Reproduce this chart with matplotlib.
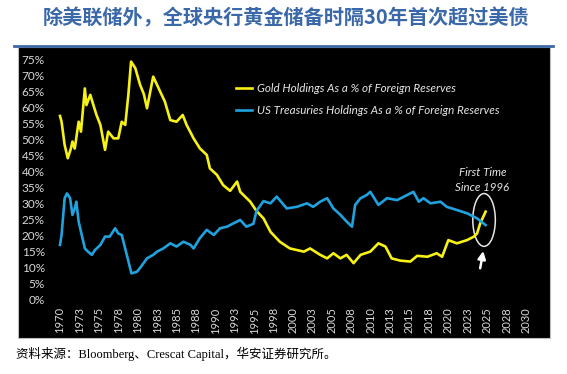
import math
import matplotlib
matplotlib.use("Agg")
import matplotlib.pyplot as plt
from matplotlib.patches import Rectangle, Ellipse
from matplotlib.lines import Line2D

# values (year, % of foreign reserves)
gold_years = [1970.0, 1970.2, 1970.6, 1971.0, 1971.4, 1971.6, 1971.9, 1972.4, 1972.7, 1973.2,
              1973.4, 1973.9, 1974.3, 1974.7, 1975.2, 1975.6, 1975.8, 1976.2, 1976.9, 1977.5,
              1977.95, 1978.4, 1978.8, 1979.15, 1979.7, 1980.3, 1980.8, 1981.2, 1982.0, 1982.9,
              1983.5, 1984.2, 1985.0, 1985.8, 1986.3, 1987.2, 1988.0, 1988.9, 1989.3, 1990.2,
              1991.0, 1991.9, 1992.8, 1993.2, 1994.5, 1995.3, 1996.2, 1997.1, 1998.3, 1999.6,
              2001.4, 2002.2, 2003.5, 2004.4, 2005.2, 2006.1, 2006.9, 2007.8, 2008.7, 2009.95,
              2011.0, 2011.9, 2012.7, 2013.8, 2015.1, 2016.0, 2017.3, 2018.5, 2019.2, 2020.0,
              2021.1, 2022.4, 2023.3, 2023.7, 2024.1, 2024.8]
gold_pct = [57.2, 55.4, 48.1, 44.0, 47.0, 49.2, 47.0, 55.4, 52.3, 65.8,
            60.6, 63.8, 60.6, 57.5, 54.4, 49.2, 46.6, 52.3, 50.2, 50.2,
            55.4, 54.4, 63.8, 74.2, 72.1, 67.0, 64.0, 59.6, 69.5, 64.8,
            61.7, 55.9, 55.4, 57.5, 54.4, 50.2, 47.1, 45.0, 40.8, 38.8,
            35.6, 33.8, 36.7, 33.5, 30.4, 27.5, 25.2, 21.0, 17.9, 15.8,
            14.8, 15.8, 13.8, 12.7, 14.3, 12.7, 13.8, 11.2, 13.8, 14.8,
            17.4, 16.4, 12.7, 12.0, 11.7, 13.5, 13.2, 14.3, 13.2, 18.4,
            17.4, 18.4, 19.5, 20.5, 23.6, 27.3]

ust_years = [1970.0, 1970.2, 1970.6, 1970.9, 1971.3, 1971.6, 1971.9, 1972.1, 1972.4, 1972.8,
             1973.2, 1973.6, 1974.1, 1974.5, 1975.2, 1975.8, 1976.4, 1977.1, 1977.5, 1977.95,
             1978.6, 1979.2, 1979.9, 1980.4, 1981.2, 1982.0, 1982.5, 1983.3, 1984.2, 1985.0,
             1985.9, 1986.8, 1987.2, 1988.0, 1988.9, 1989.8, 1990.6, 1991.5, 1992.3, 1993.2,
             1994.0, 1994.9, 1995.3, 1996.2, 1997.1, 1997.9, 1999.2, 2000.5, 2001.8, 2002.6,
             2003.5, 2004.4, 2005.2, 2006.1, 2006.9, 2007.6, 2008.0, 2008.7, 2009.5, 2009.95,
             2011.0, 2012.1, 2013.4, 2014.7, 2015.5, 2016.2, 2016.8, 2017.7, 2019.0, 2019.8,
             2021.1, 2022.4, 2023.7, 2024.8]
ust_pct = [16.9, 20.0, 31.5, 33.0, 31.5, 26.3, 28.3, 30.4, 24.2, 20.0,
           15.8, 14.8, 13.8, 15.3, 16.9, 19.5, 19.5, 22.1, 20.5, 20.0,
           13.8, 8.0, 8.5, 10.0, 12.7, 13.8, 14.8, 15.8, 17.4, 16.4,
           17.9, 16.9, 15.8, 19.0, 21.6, 20.0, 22.1, 22.6, 23.6, 24.7,
           22.6, 23.5, 27.5, 30.6, 29.9, 32.0, 28.3, 28.8, 29.9, 28.8,
           30.4, 31.5, 28.3, 26.3, 24.2, 22.6, 29.4, 31.5, 32.5, 33.5,
           29.4, 31.5, 30.9, 32.5, 33.5, 30.4, 31.5, 29.9, 30.4, 28.8,
           27.8, 26.8, 25.2, 23.1]

x_ticks = [1970 + 2.5 * k for k in range(25)]
x_labels = [str(int(math.floor(t + 0.5))) for t in x_ticks]
y_ticks = list(range(0, 80, 5))

title = "除美联储外，全球央行黄金储备时隔30年首次超过美债"
source = "资料来源：Bloomberg、Crescat Capital，华安证券研究所。"
gold_label = "Gold Holdings As a % of Foreign Reserves"
ust_label = "US Treasuries Holdings As a % of Foreign Reserves"

W, H = 567, 374
fig = plt.figure(figsize=(W / 100, H / 100), dpi=100)
fig.patch.set_facecolor("white")


def fx(px):
    return px / W


def fy(py):
    return 1 - py / H


# black chart panel
fig.patches.append(Rectangle((fx(18), fy(338)), fx(550) - fx(18), fy(47) - fy(338),
                             transform=fig.transFigure, facecolor="black",
                             edgecolor="#bdbdbd", linewidth=0.8, zorder=-5))
# rule under the title
fig.lines.append(Line2D([fx(14), fx(553)], [fy(46), fy(46)], transform=fig.transFigure,
                        color="#3d6aa6", linewidth=2, zorder=-4))

fig.text(fx(286), fy(18), title, ha="center", va="center", fontsize=14.5,
         color="#3a68a8", fontweight="bold", family=["Noto Sans CJK SC", "DejaVu Sans"])
fig.text(fx(16), fy(354), source, ha="left", va="center", fontsize=9, color="black",
         family=["Liberation Serif", "Noto Sans CJK SC"])

ax = fig.add_axes([fx(60), fy(299), fx(526) - fx(60), fy(59) - fy(299)])
ax.set_zorder(1)
ax.set_facecolor("black")
for s in ax.spines.values():
    s.set_visible(False)

ax.plot(gold_years, gold_pct, color="#f7f214", lw=1.9, label=gold_label, clip_on=False)
ax.plot(ust_years, ust_pct, color="#1fa2de", lw=1.9, label=ust_label, clip_on=False)

ax.set_xlim(1970, 2030)
ax.set_ylim(0, 75)
ax.set_xticks(x_ticks)
ax.set_xticklabels(x_labels, rotation=90, fontsize=8, color="#d9d9d9", family="Lato")
ax.set_yticks(y_ticks)
ax.set_yticklabels([f"{v}%" for v in y_ticks], fontsize=8.5, color="#d9d9d9", family="Lato")
ax.tick_params(axis="both", length=0)
ax.tick_params(axis="y", pad=11)
ax.tick_params(axis="x", pad=6)

leg = ax.legend(loc="upper left", bbox_to_anchor=(fx(236), fy(83)), bbox_transform=fig.transFigure,
                frameon=False, borderaxespad=0, borderpad=0, handlelength=1.4,
                handletextpad=0.4, labelspacing=0.95,
                prop={"family": "Lato", "style": "italic", "size": 8.4})
for t in leg.get_texts():
    t.set_color("#e6e6e6")

ax.text(2024.4, 37.2, "First Time\nSince 1996", ha="center", va="center", fontsize=8.3,
        style="italic", color="#e6e6e6", family="Lato", linespacing=1.45)
ax.add_patch(Ellipse((2024.6, 24.7), 2.9, 16.5, fill=False, edgecolor="#e6e6e6", lw=1.1))
ax.annotate("", xy=(2024.5, 15.0), xytext=(2024.1, 9.6),
            arrowprops=dict(arrowstyle="-|>,head_length=0.5,head_width=0.25", color="white",
                            lw=1.8, mutation_scale=9, shrinkA=0, shrinkB=0))

fig.savefig("out.png", dpi=100, facecolor="white")
